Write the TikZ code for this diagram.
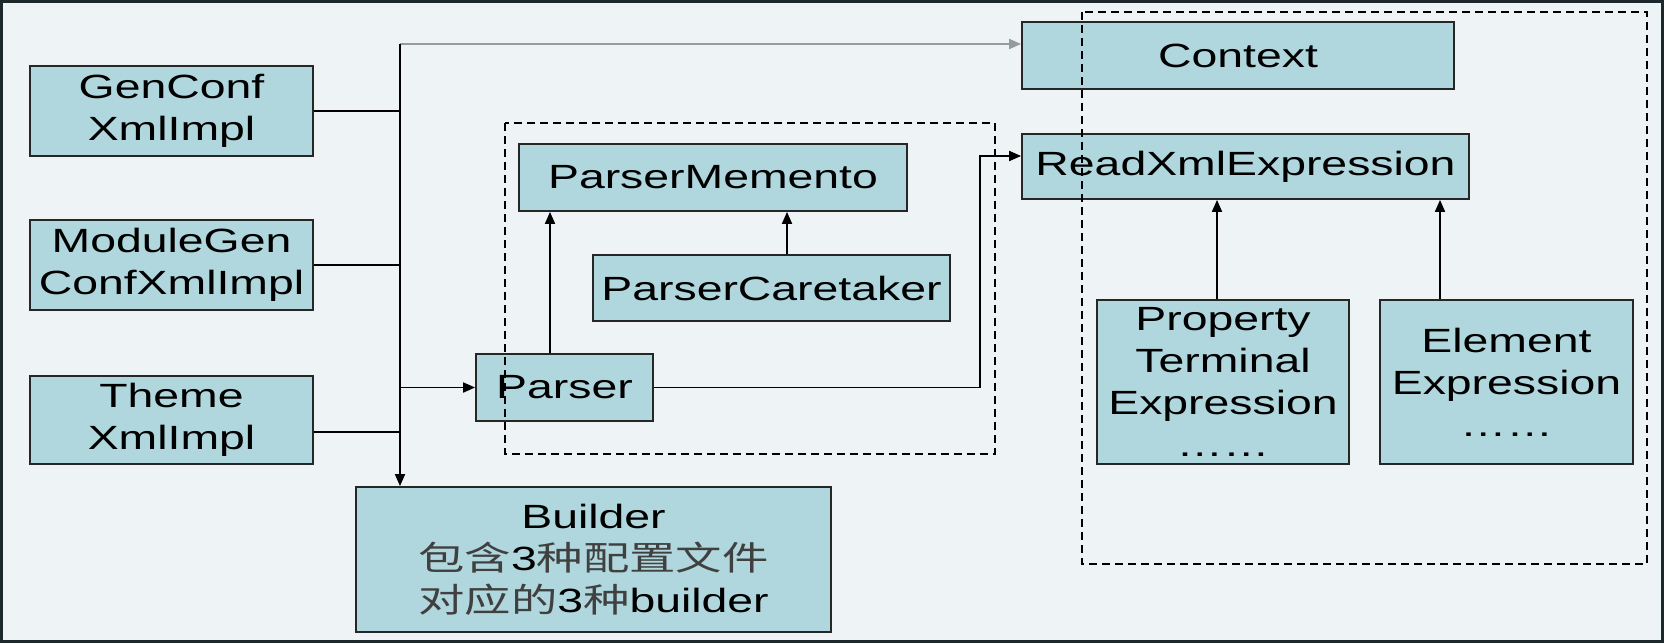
\documentclass[tikz,border=0pt]{standalone}
\usepackage{fontspec}
\setmainfont[FakeStretch=1.38]{Liberation Sans}
\newfontfamily\cjk[FakeStretch=1.38]{Noto Sans CJK SC}
\newcommand\zhtxt[1]{{\cjk\color{black!75}#1}}
\usetikzlibrary{arrows.meta}
\definecolor{bgc}{RGB}{238,244,246}
\definecolor{boxc}{RGB}{176,215,221}
\definecolor{framec}{RGB}{28,40,44}
\definecolor{toplinec}{RGB}{150,155,158}
\begin{document}
\begin{tikzpicture}[x=0.5pt,y=-0.5pt,
  box/.style={draw=black!85, fill=boxc, line width=0.9pt, inner sep=0pt, align=center,
              font=\fontsize{16.8}{21}\selectfont},
  conn/.style={draw=black, line width=0.9pt},
  arr/.style={conn, -{Triangle[length=6pt,width=5pt]}},
  grp/.style={draw=black, line width=0.9pt, dash pattern=on 4pt off 2.5pt}]
\useasboundingbox (0,0) rectangle (1664,643);
\fill[bgc] (0,0) rectangle (1664,643);
\draw[framec, line width=1.5pt] (1.5,1.5) rectangle (1662.5,641.5);

% boxes
\node[box, minimum width=141.5pt, minimum height=45pt] (gen) at (171.5,111) {GenConf\\XmlImpl};
\node[box, minimum width=141.5pt, minimum height=45pt] (mod) at (171.5,265) {ModuleGen\\ConfXmlImpl};
\node[box, minimum width=141.5pt, minimum height=44pt] (theme) at (171.5,420) {Theme\\XmlImpl};
\node[box, minimum width=237.5pt, minimum height=72.5pt] (builder) at (593.5,559.5)
  {Builder\\\zhtxt{包含}3\zhtxt{种配置文件}\\\zhtxt{对应的}3\zhtxt{种}builder};
\node[box, minimum width=88.5pt, minimum height=33.5pt] (parser) at (564.5,387.5) {Parser};
\node[box, minimum width=194pt, minimum height=33.5pt] (memento) at (713,177.5) {ParserMemento};
\node[box, minimum width=178.5pt, minimum height=33pt] (caretaker) at (771.5,288) {ParserCaretaker};
\node[box, minimum width=216pt, minimum height=33.5pt] (context) at (1238,55.5) {Context};
\node[box, minimum width=223.5pt, minimum height=32.5pt] (readxml) at (1245.5,166.5) {ReadXmlExpression};
\node[box, minimum width=126pt, minimum height=82pt] (property) at (1223,382) {Property\\Terminal\\Expression\\……};
\node[box, minimum width=126.5pt, minimum height=82pt] (element) at (1506.5,382) {Element\\Expression\\……};

% helper coordinates
\coordinate (ttop) at (400,44);
\coordinate (thm) at (313,432);
\coordinate (pm) at (550,0);
\coordinate (cm) at (787,0);
\coordinate (bend) at (980,156);
\coordinate (a1) at (1217,0);
\coordinate (a2) at (1440,0);

% connectors
\draw[conn, draw=toplinec, -{Triangle[length=6pt,width=5pt]}] (ttop) -- (context.west |- ttop);
\draw[arr] (ttop) -- (ttop |- builder.north);
\draw[conn] (gen.east) -- (gen.east -| ttop);
\draw[conn] (mod.east) -- (mod.east -| ttop);
\draw[conn] (theme.east |- thm) -- (thm -| ttop);
\draw[arr] (parser.west -| ttop) -- (parser.west);
\draw[arr] (parser.north -| pm) -- (memento.south -| pm);
\draw[arr] (caretaker.north -| cm) -- (memento.south -| cm);
\draw[arr] (parser.east) -- (parser.east -| bend) -- (bend) -- (readxml.west |- bend);
\draw[arr] (property.north -| a1) -- (readxml.south -| a1);
\draw[arr] (element.north -| a2) -- (readxml.south -| a2);

% dashed groups
\draw[grp] (505,123) rectangle (995,454);
\draw[grp] (1082,12) rectangle (1647,564);
\end{tikzpicture}
\end{document}
